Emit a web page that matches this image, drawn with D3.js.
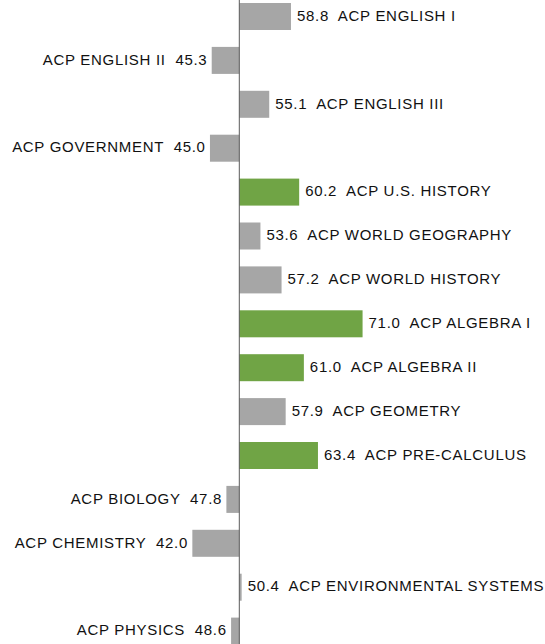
<!DOCTYPE html>
<html lang="en">
<head>
<meta charset="UTF-8">
<title>ACP results</title>
<style>
  * { margin: 0; padding: 0; }
  body { background: #fff; width: 545px; height: 644px; overflow: hidden; }
  svg { display: block; }
  .lbl { font-family: Arial, 'Liberation Sans', sans-serif; font-size: 15px; letter-spacing: 0.7px; fill: #111; white-space: pre; }
</style>
</head>
<body>
<svg width="545" height="644"></svg>
<script src="https://d3js.org/d3.v7.min.js"></script>
<script>
// data
const courses = [
  'ACP ENGLISH I', 'ACP ENGLISH II', 'ACP ENGLISH III', 'ACP GOVERNMENT',
  'ACP U.S. HISTORY', 'ACP WORLD GEOGRAPHY', 'ACP WORLD HISTORY',
  'ACP ALGEBRA I', 'ACP ALGEBRA II', 'ACP GEOMETRY', 'ACP PRE-CALCULUS',
  'ACP BIOLOGY', 'ACP CHEMISTRY', 'ACP ENVIRONMENTAL SYSTEMS', 'ACP PHYSICS'
];
const scores = [58.8, 45.3, 55.1, 45.0, 60.2, 53.6, 57.2, 71.0, 61.0, 57.9, 63.4, 47.8, 42.0, 50.4, 48.6];
const highlight = [false, false, false, false, true, false, false, true, true, false, true, false, false, false, false];
const baseline = 50;

const GREY = '#a6a6a6', GREEN = '#70a445';

const svg = d3.select('svg');

const x = d3.scaleLinear().domain([40, 80]).range([180.6, 415.4]);
const y = d3.scaleBand().domain(courses)
  .range([-5.45, 653.05])
  .paddingInner(0.385).paddingOuter(0.1925);

const rows = courses.map((c, i) => ({ name: c, v: scores[i], hi: highlight[i] }));

svg.append('g').selectAll('rect')
  .data(rows).join('rect')
  .attr('x', d => x(Math.min(d.v, baseline)))
  .attr('width', d => Math.abs(x(d.v) - x(baseline)))
  .attr('y', d => y(d.name))
  .attr('height', y.bandwidth())
  .attr('fill', d => d.hi ? GREEN : GREY);

// labels: value next to the bar, course name on the far side
svg.append('g').selectAll('text')
  .data(rows).join('text')
  .attr('class', 'lbl')
  .attr('x', d => d.v >= baseline ? x(d.v) + 6 : x(d.v) - 4.3)
  .attr('y', d => y(d.name) + y.bandwidth() / 2)
  .attr('dy', '0.28em')
  .attr('text-anchor', d => d.v >= baseline ? 'start' : 'end')
  .text(d => d.v >= baseline
    ? d.v.toFixed(1) + '  ' + d.name
    : d.name + '  ' + d.v.toFixed(1));

// vertical axis at the baseline
svg.append('line')
  .attr('x1', x(baseline)).attr('x2', x(baseline))
  .attr('y1', 0).attr('y2', 644)
  .attr('stroke', '#5a5a5a').attr('stroke-width', 1);
</script>
</body>
</html>
